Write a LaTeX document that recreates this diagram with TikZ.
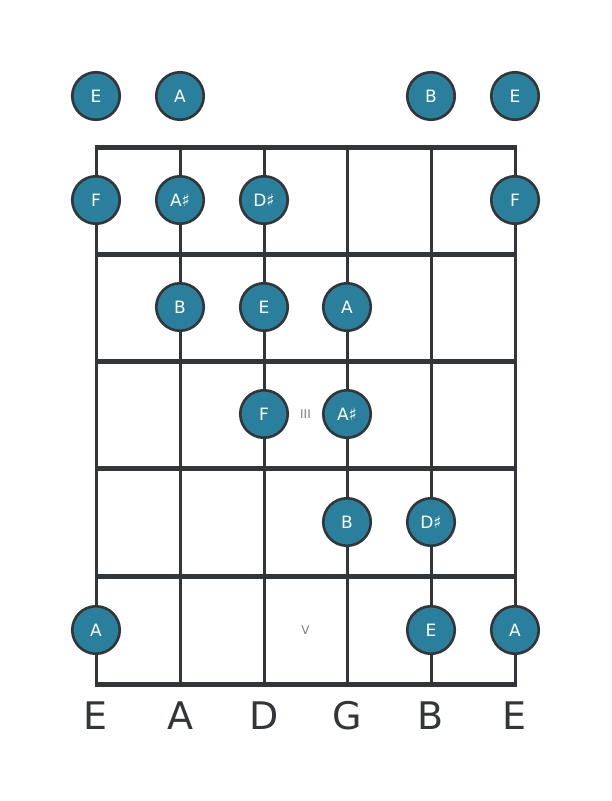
\documentclass[tikz,border=0pt]{standalone}
\usepackage{fontspec}
\setmainfont{DejaVu Sans}
\definecolor{notefill}{HTML}{2A7F9C}
\definecolor{ink}{HTML}{333638}

\begin{document}
\begin{tikzpicture}[x=1pt, y=-1pt,
  every node/.style={inner sep=0pt},
  note/.style={circle, draw=ink, line width=2.6pt, fill=notefill, minimum size=47.5pt, text=white, font=\fontsize{17}{17}\selectfont},
  tuning/.style={text=ink, font=\fontsize{38}{38}\selectfont},
  fretmark/.style={text=gray, font=\fontsize{12}{12}\selectfont}]
  \useasboundingbox (0,0) rectangle (611,801);
  % strings
  \foreach \x in {96, 180, 264, 347, 431, 515}
    \draw [ink, line width=3pt] (\x, 147) -- (\x, 684);
  % frets
  \foreach \y in {147, 254, 361, 468, 576, 684}
    \draw [ink, line width=5pt] (94.5, \y) -- (516.5, \y);
  % fret markers
  \node [fretmark] (III) at (305.5, 414) {III};
  \node [fretmark] (V) at (305.5, 630) {V};
  % open strings
  \node [note] (o1) at (96, 96) {E};
  \node [note] (o2) at (180, 96) {A};
  \node [note] (o5) at (431, 96) {B};
  \node [note] (o6) at (515, 96) {E};
  % fret 1
  \node [note] (f1s1) at (96, 200) {F};
  \node [note] (f1s2) at (180, 200) {A♯};
  \node [note] (f1s3) at (264, 200) {D♯};
  \node [note] (f1s6) at (515, 200) {F};
  % fret 2
  \node [note] (f2s2) at (180, 307) {B};
  \node [note] (f2s3) at (264, 307) {E};
  \node [note] (f2s4) at (347, 307) {A};
  % fret 3
  \node [note] (f3s3) at (264, 414) {F};
  \node [note] (f3s4) at (347, 414) {A♯};
  % fret 4
  \node [note] (f4s4) at (347, 522) {B};
  \node [note] (f4s5) at (431, 522) {D♯};
  % fret 5
  \node [note] (f5s1) at (96, 630) {A};
  \node [note] (f5s5) at (431, 630) {E};
  \node [note] (f5s6) at (515, 630) {A};
  % tuning
  \node [tuning] (t1) at (96, 716) {E};
  \node [tuning] (t2) at (180, 716) {A};
  \node [tuning] (t3) at (264, 716) {D};
  \node [tuning] (t4) at (347, 716) {G};
  \node [tuning] (t5) at (431, 716) {B};
  \node [tuning] (t6) at (515, 716) {E};
\end{tikzpicture}
\end{document}
